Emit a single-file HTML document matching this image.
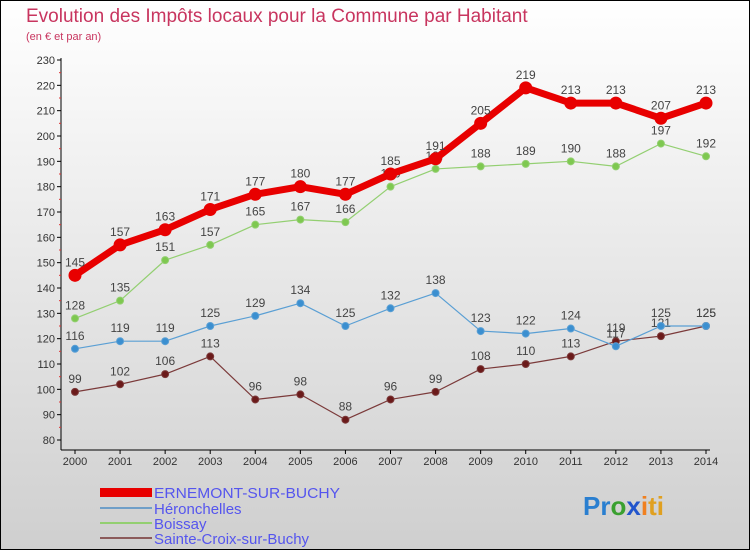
<!DOCTYPE html>
<html><head><meta charset="utf-8"><style>
body{margin:0;width:750px;height:550px;overflow:hidden;font-family:"Liberation Sans",sans-serif}
svg{display:block}
</style></head><body>
<svg id="c" width="750" height="550">
<defs><linearGradient id="bg" x1="0" y1="0" x2="0" y2="1"><stop offset="0" stop-color="#ffffff"/><stop offset="1" stop-color="#cfcfcf"/></linearGradient></defs>
<rect x="0.5" y="0.5" width="749" height="549" fill="url(#bg)" stroke="#000"/>
<text x="26" y="22" font-size="19" fill="#c8355f">Evolution des Impôts locaux pour la Commune par Habitant</text>
<text x="26" y="40" font-size="11" fill="#c8355f">(en € et par an)</text>
<g id="axes"></g><g id="series"></g>
<g font-size="15" fill="#5555ee">
<rect x="100" y="488" width="52" height="9" fill="#e80000"/>
<text x="154" y="498" fill="#5555ee" textLength="186" lengthAdjust="spacingAndGlyphs">ERNEMONT-SUR-BUCHY</text>
<rect x="100" y="507" width="52" height="2" fill="#6f9fc8"/>
<text x="154" y="514" fill="#5555ee">Héronchelles</text>
<rect x="100" y="522" width="52" height="2" fill="#93cf71"/>
<text x="154" y="529" fill="#5555ee">Boissay</text>
<rect x="100" y="537" width="52" height="2" fill="#8b5a5a"/>
<text x="154" y="544" fill="#5555ee">Sainte-Croix-sur-Buchy</text>
</g>
<g font-size="26" font-weight="bold">
<text x="583" y="515"><tspan fill="#2a7fd0">Pr</tspan><tspan fill="#3aa030">o</tspan><tspan fill="#2255cc">x</tspan><tspan fill="#f08020">i</tspan><tspan fill="#e0a020">ti</tspan></text>
</g>
</svg>
<script>
const years=[2000,2001,2002,2003,2004,2005,2006,2007,2008,2009,2010,2011,2012,2013,2014];
const ernemont=[145,157,163,171,177,180,177,185,191,205,219,213,213,207,213];
const heronchelles=[116,119,119,125,129,134,125,132,138,123,122,124,117,125,125];
const boissay=[128,135,151,157,165,167,166,180,187,188,189,190,188,197,192];
const sainteCroix=[99,102,106,113,96,98,88,96,99,108,110,113,119,121,125];
const yTicks=[80,90,100,110,120,130,140,150,160,170,180,190,200,210,220,230];
const NS="http://www.w3.org/2000/svg";
const x=i=>75+i*(631/14);
const y=v=>440-(v-80)*(380/150);
function mk(tag,attrs,parent){const e=document.createElementNS(NS,tag);for(const k in attrs)e.setAttribute(k,attrs[k]);parent.appendChild(e);return e;}
const ax=document.getElementById('axes');
const yl=mk('line',{x1:61,y1:58,x2:61,y2:450,stroke:'#000'},ax);


const xl=mk('line',{x1:61,y1:450,x2:710,y2:450,stroke:'#000'},ax);


yTicks.forEach(v=>{
 mk('line',{x1:57,y1:y(v),x2:61,y2:y(v),stroke:'#000'},ax);
 if(v<230)mk('line',{x1:59,y1:y(v+5),x2:61,y2:y(v+5),stroke:'#d33'},ax);
 const t=mk('text',{x:55,y:y(v)+4,'font-size':11,'text-anchor':'end',fill:'#333'},ax);t.textContent=v;
 
 
});
years.forEach((yr,i)=>{
 mk('line',{x1:x(i),y1:450,x2:x(i),y2:454,stroke:'#000'},ax);
 const t=mk('text',{x:x(i),y:465,'font-size':11,'text-anchor':'middle',fill:'#333'},ax);t.textContent=yr;
 
 
});
const sg=document.getElementById('series');
function series(data,name,color,fill,w,r,fs){
 const g=mk('g',{},sg);
 
 
 mk('polyline',{points:data.map((v,i)=>x(i)+','+y(v)).join(' '),fill:'none',stroke:color,'stroke-width':w,'stroke-linejoin':'round'},g);
 data.forEach((v,i)=>{
  const c=mk('circle',{cx:x(i),cy:y(v),r:r,fill:fill,stroke:color,'stroke-width':1},g);
  
  
  const t=mk('text',{x:x(i),y:y(v)-9,'font-size':fs,'text-anchor':'middle',fill:'#444'},g);t.textContent=v;
  
  
 });
}
series(sainteCroix,'sainte-croix-series','#7b3a3a','#6b1a1a',1.2,3.5,12);
series(boissay,'boissay-series','#93cf71','#7ec850',1.2,3.5,12);
series(heronchelles,'heronchelles-series','#5a9fd4','#3b8fd0',1.2,3.5,12);
series(ernemont,'ernemont-series','#e80000','#e80000',7,6,12);
</script>
</body></html>
